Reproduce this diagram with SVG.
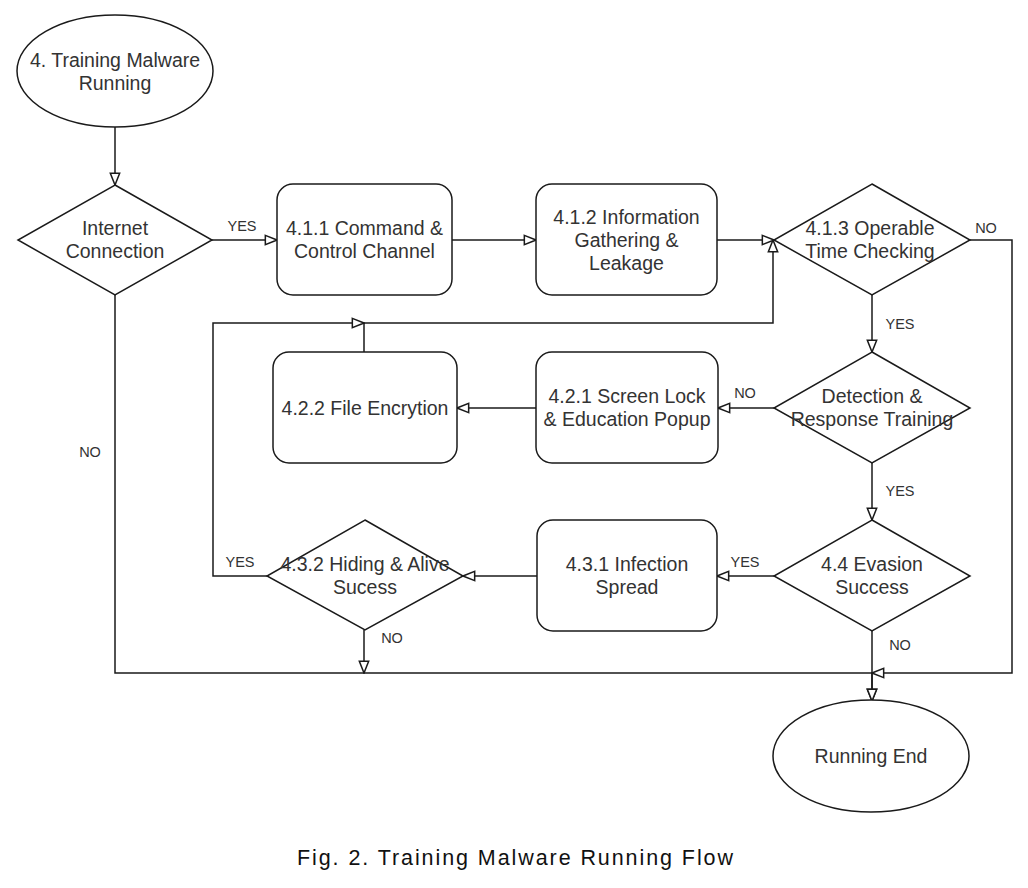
<svg xmlns="http://www.w3.org/2000/svg" width="1028" height="888" viewBox="0 0 1028 888">
<style>
.shape{fill:#fff;stroke:#1a1a1a;stroke-width:1.5}
.edge{fill:none;stroke:#1a1a1a;stroke-width:1.5}
.t{font-family:"Liberation Sans",Arial,sans-serif;font-size:19.5px;fill:#333;text-anchor:middle}
.lbl{font-family:"Liberation Sans",Arial,sans-serif;font-size:14.5px;fill:#333;text-anchor:middle}
.cap{font-family:"Liberation Sans","Noto Sans CJK KR",sans-serif;font-size:21.5px;fill:#111;text-anchor:middle}
</style>
<defs>
<marker id="arr" markerUnits="userSpaceOnUse" markerWidth="14" markerHeight="12" viewBox="-1 -1 12 10" refX="10" refY="4" orient="auto">
<path d="M0,0 L10,4 L0,8 Z" fill="#fff" stroke="#1a1a1a" stroke-width="1.3"/>
</marker>
</defs>
<rect width="1028" height="888" fill="#fff"/>
<g id="connectors">
<path class="edge" d="M115 127 V185" marker-end="url(#arr)"/>
<path class="edge" d="M212 240 H277" marker-end="url(#arr)"/>
<path class="edge" d="M452 240 H536" marker-end="url(#arr)"/>
<path class="edge" d="M717 240 H774" marker-end="url(#arr)"/>
<path class="edge" d="M872 295 V352" marker-end="url(#arr)"/>
<path class="edge" d="M774 408 H718" marker-end="url(#arr)"/>
<path class="edge" d="M536 408 H457" marker-end="url(#arr)"/>
<path class="edge" d="M364 352 V323 H773 V240" marker-end="url(#arr)"/>
<path class="edge" d="M872 463 V520" marker-end="url(#arr)"/>
<path class="edge" d="M774 576 H717" marker-end="url(#arr)"/>
<path class="edge" d="M537 576 H463" marker-end="url(#arr)"/>
<path class="edge" d="M267 576 H213 V323 H364" marker-end="url(#arr)"/>
<path class="edge" d="M364 630 V673" marker-end="url(#arr)"/>
<path class="edge" d="M115 295 V673 H872 V701" marker-end="url(#arr)"/>
<path class="edge" d="M970 240 H1012 V673 H872" marker-end="url(#arr)"/>
<path class="edge" d="M872 631 V701" marker-end="url(#arr)"/>
<text class="lbl" x="242" y="231">YES</text>
<text class="lbl" x="90" y="457">NO</text>
<text class="lbl" x="986" y="233">NO</text>
<text class="lbl" x="900" y="329">YES</text>
<text class="lbl" x="745" y="398">NO</text>
<text class="lbl" x="900" y="496">YES</text>
<text class="lbl" x="745" y="567">YES</text>
<text class="lbl" x="240" y="567">YES</text>
<text class="lbl" x="392" y="643">NO</text>
<text class="lbl" x="900" y="650">NO</text>
</g>
<g id="start">
<ellipse class="shape" cx="115" cy="71" rx="98" ry="56"/>
<text class="t" x="115" y="67">4. Training Malware</text>
<text class="t" x="115" y="90">Running</text>
</g>
<g id="internet">
<polygon class="shape" points="115,185 212,240 115,295 18,240"/>
<text class="t" x="115" y="235">Internet</text>
<text class="t" x="115" y="258">Connection</text>
</g>
<g id="n411">
<rect class="shape" x="277" y="184" width="175" height="111" rx="16"/>
<text class="t" x="364.5" y="235">4.1.1 Command &amp;</text>
<text class="t" x="364.5" y="258">Control Channel</text>
</g>
<g id="n412">
<rect class="shape" x="536" y="184" width="181" height="111" rx="16"/>
<text class="t" x="626.5" y="224">4.1.2 Information</text>
<text class="t" x="626.5" y="247">Gathering &amp;</text>
<text class="t" x="626.5" y="270">Leakage</text>
</g>
<g id="n413">
<polygon class="shape" points="872,184 970,240 872,295 774,240"/>
<text class="t" x="870" y="235">4.1.3 Operable</text>
<text class="t" x="870" y="258">Time Checking</text>
</g>
<g id="detect">
<polygon class="shape" points="872,352 970,408 872,463 774,408"/>
<text class="t" x="872" y="403">Detection &amp;</text>
<text class="t" x="872" y="426">Response Training</text>
</g>
<g id="n421">
<rect class="shape" x="536" y="352" width="182" height="111" rx="16"/>
<text class="t" x="627" y="403">4.2.1 Screen Lock</text>
<text class="t" x="627" y="426">&amp; Education Popup</text>
</g>
<g id="n422">
<rect class="shape" x="273" y="352" width="184" height="111" rx="16"/>
<text class="t" x="365" y="415">4.2.2 File Encrytion</text>
</g>
<g id="n44">
<polygon class="shape" points="872,520 970,576 872,631 774,576"/>
<text class="t" x="872" y="571">4.4 Evasion</text>
<text class="t" x="872" y="594">Success</text>
</g>
<g id="n431">
<rect class="shape" x="537" y="520" width="180" height="111" rx="16"/>
<text class="t" x="627" y="571">4.3.1 Infection</text>
<text class="t" x="627" y="594">Spread</text>
</g>
<g id="n432">
<polygon class="shape" points="365,520 463,576 365,630 267,576"/>
<text class="t" x="365" y="571">4.3.2 Hiding &amp; Alive</text>
<text class="t" x="365" y="594">Sucess</text>
</g>
<g id="end">
<ellipse class="shape" cx="871" cy="756" rx="98" ry="56"/>
<text class="t" x="871" y="763">Running End</text>
</g>
<text class="cap" x="515" y="865" textLength="436" lengthAdjust="spacing">Fig. 2. Training Malware Running Flow</text>
</svg>
